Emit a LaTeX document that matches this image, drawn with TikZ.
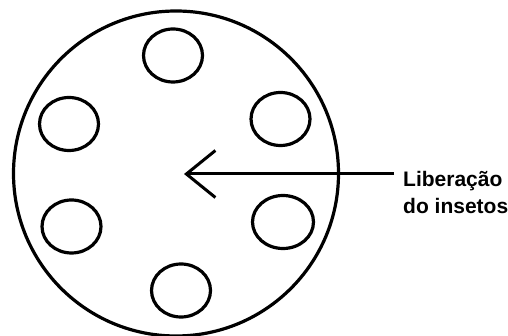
\documentclass[tikz,border=0pt]{standalone}
\usepackage{fontspec}
\setmainfont{Liberation Sans}
\usetikzlibrary{arrows.meta}
\begin{document}
\begin{tikzpicture}[x=1pt,y=-1pt,
  outline/.style={draw=black,line width=3.2pt},
  hole/.style={draw=black,line width=3.2pt},
  lbl/.style={font=\fontsize{21}{27}\selectfont\bfseries,align=left,inner sep=0pt},
  pointer/.style={draw=black,line width=3pt,-{Straight Barb[length=29pt,width=47pt,line width=3pt]}}]
\useasboundingbox (0,0) rectangle (508,336);
\fill[white] (0,0) rectangle (508,336);
\draw[outline] (176,173.5) circle [radius=162.5];
\draw[hole] (173,55.5) ellipse [x radius=29.5, y radius=26.5];
\draw[hole] (69,124) ellipse [x radius=29.5, y radius=26.5];
\draw[hole] (280.5,119) ellipse [x radius=29.5, y radius=26.5];
\draw[hole] (71.5,226.5) ellipse [x radius=29.5, y radius=26.5];
\draw[hole] (181,290.5) ellipse [x radius=29.5, y radius=26.5];
\draw[hole] (283,222) ellipse [x radius=30.5, y radius=26.5];
\node[lbl,anchor=north west] (lab) at (403,171) {Liberação\\do insetos};
\coordinate (tip) at (184,174);
\draw[pointer] ([shift={(-9,3)}]lab.north west) -- (tip);
\end{tikzpicture}
\end{document}
